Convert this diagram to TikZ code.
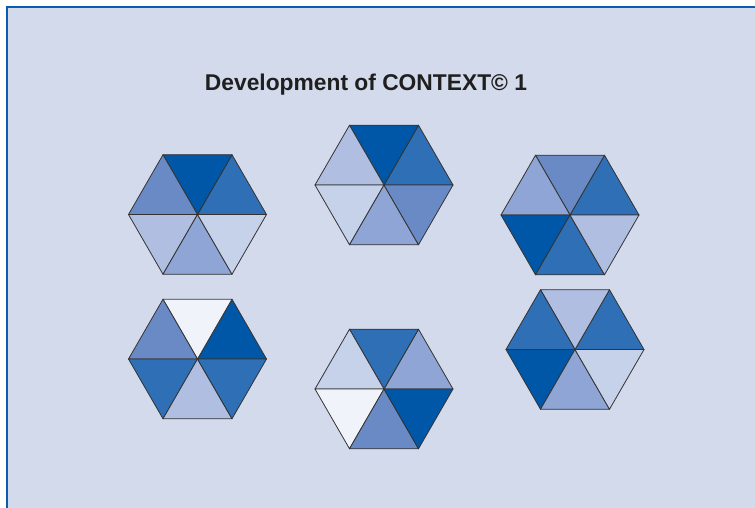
\documentclass[tikz,border=0pt]{standalone}
\usepackage{fontspec}
\setmainfont{Liberation Sans}
\definecolor{bgc}{RGB}{211,218,236}
\definecolor{frame}{RGB}{10,92,172}
\definecolor{cA}{RGB}{0,87,168}
\definecolor{cB}{RGB}{46,111,181}
\definecolor{cC}{RGB}{106,138,197}
\definecolor{cD}{RGB}{142,165,213}
\definecolor{cE}{RGB}{176,191,225}
\definecolor{cF}{RGB}{198,209,234}
\definecolor{cW}{RGB}{240,243,250}
\tikzset{tri/.style={draw=black!80, line width=0.8pt, line join=round}}
\newcommand{\hexfig}[9]{%
  \begin{scope}[shift={(#2,#3)}]
    \coordinate (#1c) at (0,0);
    \coordinate (#1r) at (69,0);
    \coordinate (#1ur) at (34.5,-59.76);
    \coordinate (#1ul) at (-34.5,-59.76);
    \coordinate (#1l) at (-69,0);
    \coordinate (#1ll) at (-34.5,59.76);
    \coordinate (#1lr) at (34.5,59.76);
    \filldraw[tri, fill=#4] (#1c) -- (#1r) -- (#1ur) -- cycle;
    \filldraw[tri, fill=#5] (#1c) -- (#1ur) -- (#1ul) -- cycle;
    \filldraw[tri, fill=#6] (#1c) -- (#1ul) -- (#1l) -- cycle;
    \filldraw[tri, fill=#7] (#1c) -- (#1l) -- (#1ll) -- cycle;
    \filldraw[tri, fill=#8] (#1c) -- (#1ll) -- (#1lr) -- cycle;
    \filldraw[tri, fill=#9] (#1c) -- (#1lr) -- (#1r) -- cycle;
  \end{scope}}
\begin{document}
\begin{tikzpicture}[x=1pt,y=-1pt]
  \useasboundingbox (0,0) rectangle (755,508);
  \fill[white] (0,0) rectangle (755,508);
  \fill[bgc] (6.5,7) rectangle (755,508);
  \draw[frame, line width=2pt] (6.5,508) -- (6.5,7) -- (755,7);
  \node[anchor=base, font=\bfseries\fontsize{22.8}{25}\selectfont, text=black!88] (title) at (366,91) {Development of CONTEXT© 1};
  \hexfig{ha}{197.5}{214.5}{cB}{cA}{cC}{cE}{cD}{cF}
  \hexfig{hb}{384}{185}{cB}{cA}{cE}{cF}{cD}{cC}
  \hexfig{hc}{570}{215}{cB}{cC}{cD}{cA}{cB}{cE}
  \hexfig{hd}{197.5}{359}{cA}{cW}{cC}{cB}{cE}{cB}
  \hexfig{he}{384}{389}{cD}{cB}{cF}{cW}{cC}{cA}
  \hexfig{hf}{575}{349.5}{cB}{cE}{cB}{cA}{cD}{cF}
\end{tikzpicture}
\end{document}
